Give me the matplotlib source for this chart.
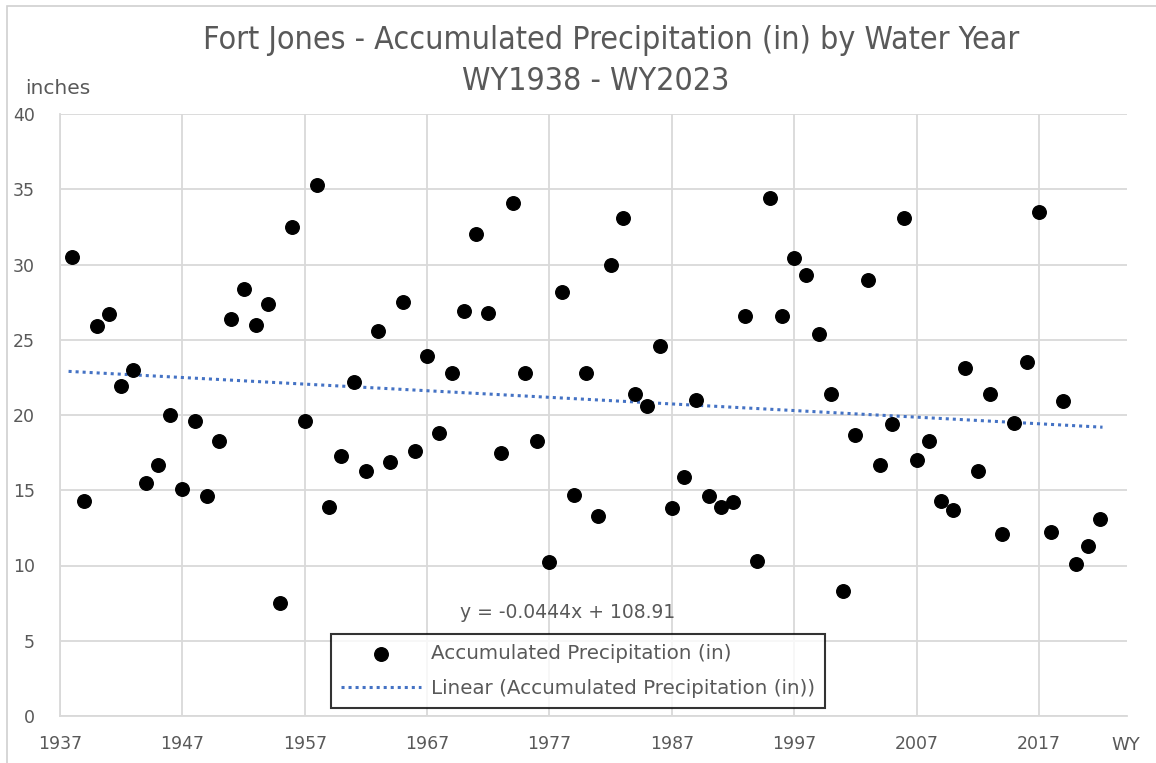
import numpy as np
import matplotlib
matplotlib.use("Agg")
import matplotlib.pyplot as plt
from matplotlib.patches import Rectangle
from matplotlib import font_manager

# water years and accumulated precipitation (in)
years = list(range(1938, 2023))
precip = [
    30.5, 14.3, 25.9, 26.7, 21.9, 23.0, 15.5, 16.7, 20.0, 15.1,
    19.6, 14.6, 18.3, 26.4, 28.4, 26.0, 27.4, 7.5, 32.5, 19.6,
    35.3, 13.9, 17.3, 22.2, 16.3, 25.6, 16.9, 27.5, 17.6, 23.9,
    18.8, 22.8, 26.9, 32.0, 26.8, 17.5, 34.1, 22.8, 18.3, 10.2,
    28.2, 14.7, 22.8, 13.3, 30.0, 33.1, 21.4, 20.6, 24.6, 13.8,
    15.9, 21.0, 14.6, 13.9, 14.2, 26.6, 10.3, 34.4, 26.6, 30.4,
    29.3, 25.4, 21.4, 8.3, 18.7, 29.0, 16.7, 19.4, 33.1, 17.0,
    18.3, 14.3, 13.7, 23.1, 16.3, 21.4, 12.1, 19.5, 23.5, 33.5,
    12.2, 20.9, 10.1, 11.3, 13.1,
]
x_ticks = [1937, 1947, 1957, 1967, 1977, 1987, 1997, 2007, 2017]
y_ticks = [0, 5, 10, 15, 20, 25, 30, 35, 40]

grey = "#595959"
grid_c = "#D9D9D9"

# narrow font for the title if there is one
names = {f.name for f in font_manager.fontManager.ttflist}
title_font = "Liberation Sans Narrow" if "Liberation Sans Narrow" in names else "DejaVu Sans"

fig = plt.figure(figsize=(11.56, 7.63), dpi=100)
ax = fig.add_axes([60 / 1156, 1 - 716 / 763, (1127 - 60) / 1156, (716 - 114) / 763])

# chart area border
fig.patches.append(Rectangle((7 / 1156, -0.1), 1.2, 1 - 6 / 763 + 0.1, transform=fig.transFigure,
                             fill=False, edgecolor="#D0D0D0", linewidth=1.2))

ax.scatter(years, precip, s=95, color="black", zorder=3, label="Accumulated Precipitation (in)")

slope, intercept = np.polyfit(years, precip, 1)
xs = np.array([years[0] - 0.3, years[-1] + 0.2])
ax.plot(xs, slope * xs + intercept, color="#4472C4", linestyle=(0, (1, 1.3)), linewidth=2.2,
        zorder=2, label="Linear (Accumulated Precipitation (in))")

ax.set_xlim(1937, 2024.2)
ax.set_ylim(0, 40)
ax.set_xticks(x_ticks)
ax.set_yticks(y_ticks)
ax.grid(True, color=grid_c, linewidth=1.3)
ax.set_axisbelow(True)
for s in ["top", "right"]:
    ax.spines[s].set_visible(False)
for s in ["left", "bottom"]:
    ax.spines[s].set_color(grid_c)
    ax.spines[s].set_linewidth(1.3)
ax.tick_params(length=0, labelsize=12.5, labelcolor=grey)
ax.tick_params(axis="y", pad=18)
ax.tick_params(axis="x", pad=14)

fig.text(611 / 1156, 1 - 40 / 763, "Fort Jones - Accumulated Precipitation (in) by Water Year",
         ha="center", va="center", fontsize=23, color=grey, family=title_font, fontstretch="condensed")
fig.text(596 / 1156, 1 - 82 / 763, "WY1938 - WY2023",
         ha="center", va="center", fontsize=23, color=grey, family=title_font, fontstretch="condensed")
fig.text(58 / 1156, 1 - 89 / 763, "inches", ha="center", va="center", fontsize=14.5, color=grey)
fig.text(1126 / 1156, 1 - 745 / 763, "WY", ha="center", va="center", fontsize=13, color=grey)
fig.text(568 / 1156, 1 - 612 / 763, "y = -0.0444x + 108.91", ha="center", va="center",
         fontsize=13.5, color=grey)

leg = ax.legend(loc="center", bbox_to_anchor=(578 / 1156, 1 - 671 / 763),
                bbox_transform=fig.transFigure, frameon=True, fancybox=False,
                fontsize=14.3, labelcolor=grey, handlelength=4.0, handletextpad=0.5,
                borderpad=0.5, labelspacing=0.8, borderaxespad=0)
leg.get_frame().set_edgecolor("black")
leg.get_frame().set_linewidth(1.5)

fig.savefig("out.png", dpi=100)
